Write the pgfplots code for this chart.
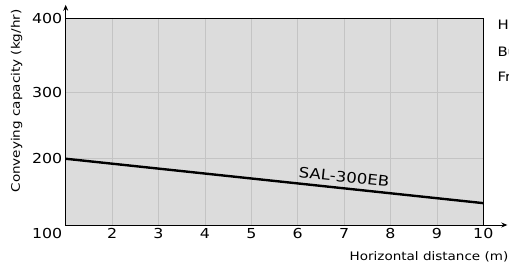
\documentclass[border=0pt]{standalone}
\usepackage{pgfplots}
\pgfplotsset{compat=1.18}
\usetikzlibrary{arrows.meta}
\usepackage{fontspec}
\setmainfont{DejaVu Sans}[FakeStretch=1.15]
\definecolor{bgfill}{HTML}{DCDCDC}
\definecolor{gridc}{HTML}{C4C4C4}
\begin{document}
\begin{tikzpicture}
\useasboundingbox (0,0) rectangle (509bp,268bp);
\begin{axis}[
  at={(65.7bp,43bp)}, anchor=south west,
  scale only axis, width=417.6bp, height=206.7bp,
  xmin=1, xmax=10, ymin=100, ymax=412,
  xtick={2,3,4,5,6,7,8,9,10},
  ytick={200,300,412}, yticklabels={200,300,400},
  extra y ticks={100}, extra y tick labels={100},
  extra y tick style={grid=none, yticklabel style={yshift=-8bp}},
  grid=major, major grid style={gridc, line width=0.7pt},
  major tick length=0pt,
  axis background/.style={fill=bgfill},
  axis line style={line width=0.7pt},
  tick label style={font=\fontsize{13.8}{16}\selectfont},
  /pgf/number format/assume math mode=true,
  clip=false,
  xlabel={Horizontal distance (m)},
  xlabel style={at={(axis description cs:1.0604,-0.153)}, anchor=east, inner sep=0pt, font=\fontsize{11.8}{14}\selectfont},
  ylabel={Conveying capacity (kg/hr)},
  ylabel style={at={(axis description cs:-0.1178,0.60)}, anchor=center, rotate=0, inner sep=0pt, font=\fontsize{11.8}{14}\selectfont},
]
\addplot[black, line width=2.4bp] coordinates {(1,200) (10,133)};
\node[rotate=-6, font=\fontsize{14.5}{17}\selectfont] at (axis cs:7,172.5) {SAL-300EB};
\draw[-{Stealth[length=6bp,width=5bp]}, line width=0.8pt] (rel axis cs:0,1) -- ([yshift=13.5bp]rel axis cs:0,1);
\draw[-{Stealth[length=6bp,width=5bp]}, line width=0.8pt] (rel axis cs:1,0) -- ([xshift=24bp]rel axis cs:1,0);
\end{axis}
\node[anchor=west, font=\fontsize{13}{15}\selectfont] at (494bp,243bp) {H};
\node[anchor=west, font=\fontsize{13}{15}\selectfont] at (494bp,216bp) {Bu};
\node[anchor=west, font=\fontsize{13}{15}\selectfont] at (494bp,191bp) {Fr};
\end{tikzpicture}
\end{document}
